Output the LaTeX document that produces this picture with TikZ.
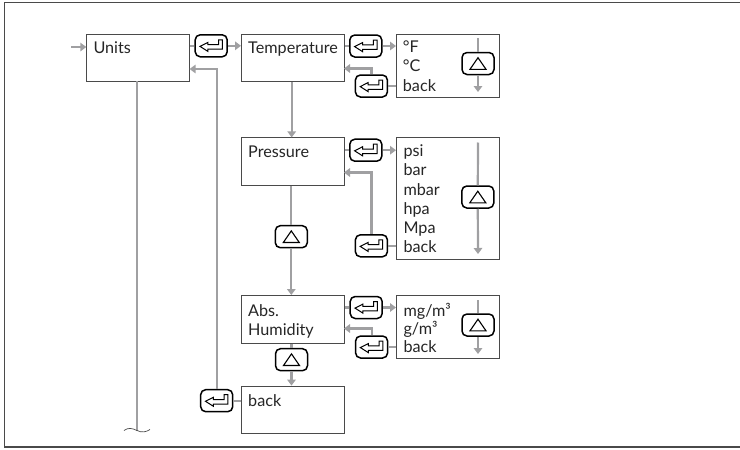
\documentclass[tikz,border=0pt]{standalone}
\usepackage{fontspec}
\setmainfont{Lato}
\usetikzlibrary{arrows.meta}
\definecolor{flow}{HTML}{A0A0A2}
\definecolor{edge}{HTML}{4A4A4A}
\tikzset{x=1pt,y=-1pt,
 menubox/.style={draw=edge,line width=1pt,fill=white,anchor=north west,inner sep=0pt},
 flowline/.style={draw=flow,line width=2.2pt},
 flowarrow/.style={draw=flow,line width=2.2pt,-{Triangle[length=6pt,width=8.5pt]}},
 keybox/.style={draw=black,line width=1.5pt,rounded corners=5pt,minimum width=32pt,minimum height=22pt,inner sep=0pt,fill=white},
 label/.style={anchor=base west,inner sep=0pt,font=\fontsize{16.2}{17}\selectfont,text=black!85},
 entermark/.style={draw=black,line width=1pt,line join=miter},
 upmark/.style={draw=black,line width=1.1pt,line join=miter},
 framerule/.style={draw=edge,line width=1.2pt},
}
\begin{document}
\begin{tikzpicture}
\useasboundingbox (0,0) rectangle (740,450);
\draw[framerule] (740,2.8) -- (4.6,2.8) -- (4.6,447) -- (740,447);
% boxes
\node[menubox,minimum width=103pt,minimum height=47.5pt] (units) at (86.3,33.7) {};
\node[menubox,minimum width=103pt,minimum height=47.5pt] (temp) at (241,33.7) {};
\node[menubox,minimum width=103pt,minimum height=47.5pt] (pres) at (241,137.4) {};
\node[menubox,minimum width=103pt,minimum height=47.5pt] (abs) at (241,295) {};
\node[menubox,minimum width=103pt,minimum height=47.5pt] (bk) at (241,385.6) {};
\node[menubox,minimum width=102.6pt,minimum height=63.6pt] (ltemp) at (396,33.7) {};
\node[menubox,minimum width=102.6pt,minimum height=121.6pt] (lpres) at (396,137.4) {};
\node[menubox,minimum width=102.6pt,minimum height=63.4pt] (labs) at (396,295) {};
% free ends
\coordinate (in) at (71,47);
\coordinate (unitsret) at (189.6,69);
\coordinate (unitsdown) at (136.7,81.2);
\coordinate (cut) at (136.7,430.5);
\coordinate (r1) at (344,68.5);
\coordinate (r2) at (344,172.5);
\coordinate (r3) at (344,328.5);
% keys
\node[keybox] (k1) at (211.2,45.8) {};
\node[keybox] (k2) at (365.8,46) {};
\node[keybox] (k3) at (371.4,86) {};
\node[keybox] (k4) at (365.8,150.2) {};
\node[keybox] (k5) at (371.4,245.8) {};
\node[keybox] (k6) at (366.2,307.5) {};
\node[keybox] (k7) at (371.6,347) {};
\node[keybox] (k8) at (216.7,400.7) {};
\node[keybox] (u1k) at (291.3,236.7) {};
\node[keybox] (u2k) at (291.5,359.7) {};
\node[keybox] (u3k) at (478,63.5) {};
\node[keybox] (u4k) at (477.8,197) {};
\node[keybox] (u5k) at (478,325) {};
\foreach \k in {k1,k2,k3,k4,k5,k6,k7,k8}{
  \draw[entermark,shift={(\k.center)}] (-11.2,0.6) -- (-3.3,-3.4) -- (-3.3,-1.2) -- (7.5,-1.2) -- (7.5,-6) -- (11.2,-6) -- (11.2,3.4) -- (-3.3,3.4) -- (-3.3,5.6) -- cycle;
}
\foreach \k in {u1k,u2k,u3k,u4k,u5k}{
  \draw[upmark,shift={(\k.center)}] (-8,5.8) -- (0,-5.8) -- (8,5.8) -- cycle;
}
% flows
\draw[flowarrow] (in) -- (units.west |- in);
\draw[flowline] (k1.west) -- (units.east |- k1);
\draw[flowarrow] (k1.east) -- (temp.west |- k1);
\draw[flowline] (unitsdown) -- (cut);
\draw[flowarrow] (temp.south -| 291.7,0) -- (pres.north -| 291.7,0);
\draw[flowline] (pres.south -| u1k) -- (u1k.north);
\draw[flowarrow] (u1k.south) -- (abs.north -| u1k);
\draw[flowline] (abs.south -| u2k) -- (u2k.north);
\draw[flowarrow] (u2k.south) -- (bk.north -| u2k);
\draw[flowline] (k2.west) -- (temp.east |- k2);
\draw[flowarrow] (k2.east) -- (ltemp.west |- k2);
\draw[flowline] (k4.west) -- (pres.east |- k4);
\draw[flowarrow] (k4.east) -- (lpres.west |- k4);
\draw[flowline] (k6.west) -- (abs.east |- k6);
\draw[flowarrow] (k6.east) -- (labs.west |- k6);
\draw[flowline] (k3.east) -- (ltemp.west |- k3);
\draw[flowline] (k5.east) -- (lpres.west |- k5);
\draw[flowline] (k7.east) -- (labs.west |- k7);
\draw[flowline] (k8.east) -- (bk.west |- k8);
% returns
\draw[flowarrow] (k3.north) |- (r1);
\draw[flowarrow] (k5.north) |- (r2);
\draw[flowarrow] (k7.north) |- (r3);
\draw[flowarrow] (k8.north) |- (unitsret);
% list arrows
\coordinate (l1a) at (478,38);
\coordinate (l1b) at (478,92);
\coordinate (l2a) at (478,142.5);
\coordinate (l2b) at (478,254);
\coordinate (l3a) at (478,300);
\coordinate (l3b) at (478,354);
\draw[flowline] (l1a) -- (u3k.north);
\draw[flowarrow] (u3k.south) -- (l1b);
\draw[flowline] (l2a) -- (u4k.north);
\draw[flowarrow] (u4k.south) -- (l2b);
\draw[flowline] (l3a) -- (u5k.north);
\draw[flowarrow] (u5k.south) -- (l3b);
% cut mark
\draw[draw=edge,line width=0.7pt] (124,430.5) .. controls (128,427.5) and (132,428) .. (137,430.5) .. controls (142,433) and (146,432) .. (150,429.5);
% text
\node[label] (tunits) at (93.3,53.3) {Units};
\node[label] (ttemp) at (248,53.3) {Temperature};
\node[label] (tpres) at (248,157.8) {Pressure};
\node[label] (tabsa) at (248,316) {Abs.};
\node[label] (tabsb) at (248,335.5) {Humidity};
\node[label] (tbk) at (248,406) {back};
\node[label] (aa) at (402.7,52.8) {°F};
\node[label] (ab) at (402.7,71.5) {°C};
\node[label] (ac) at (402.7,91.2) {back};
\node[label] (ba) at (403.3,156) {psi};
\node[label] (bb) at (403.3,175.5) {bar};
\node[label] (bc) at (403.3,195) {mbar};
\node[label] (bd) at (403.3,214.5) {hpa};
\node[label] (be) at (403.3,233.5) {Mpa};
\node[label] (bf) at (403.3,252.3) {back};
\node[label] (ca) at (403.3,316) {mg/m³};
\node[label] (cb) at (403.3,334) {g/m³};
\node[label] (cc) at (403.3,352.3) {back};
\end{tikzpicture}
\end{document}
